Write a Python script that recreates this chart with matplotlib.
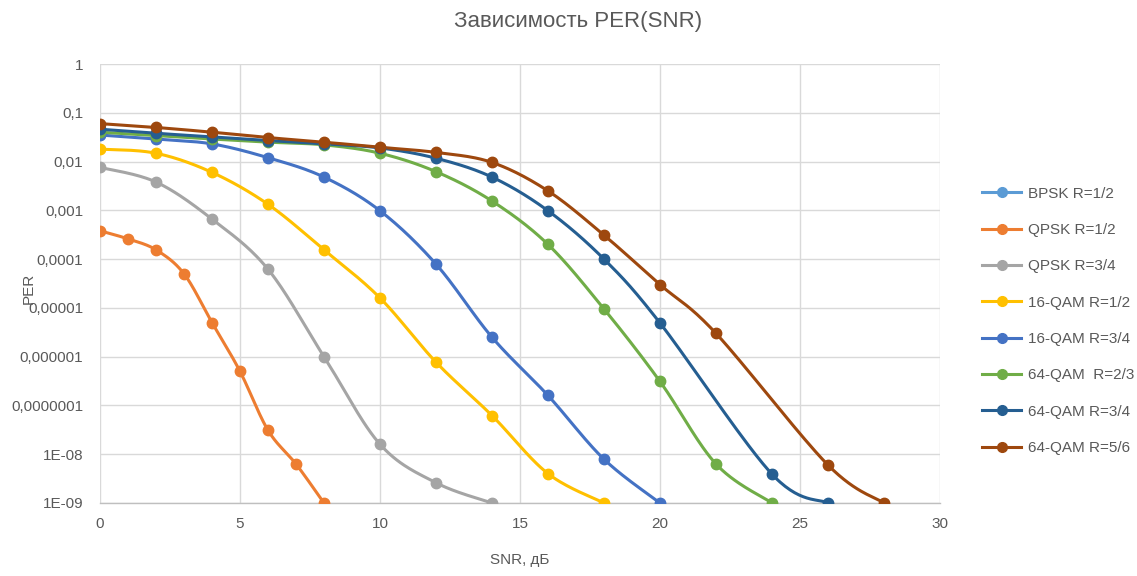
import numpy as np
import matplotlib
matplotlib.use("Agg")
import matplotlib.pyplot as plt
from matplotlib.ticker import FixedLocator, FixedFormatter, NullLocator

plt.rcParams['font.family'] = ['Liberation Sans', 'DejaVu Sans']

# ---- data ----
series_names = ["BPSK R=1/2", "QPSK R=1/2", "QPSK R=3/4", "16-QAM R=1/2",
                "16-QAM R=3/4", "64-QAM  R=2/3", "64-QAM R=3/4", "64-QAM R=5/6"]
series_colors = ["#5B9BD5", "#ED7D31", "#A5A5A5", "#FFC000",
                 "#4472C4", "#70AD47", "#255E91", "#9E480E"]

snr_bpsk_12 = []
per_bpsk_12 = []

snr_qpsk_12 = [0, 1, 2, 3, 4, 5, 6, 7, 8]
per_qpsk_12 = [3.8e-4, 2.6e-4, 1.55e-4, 5e-5, 5e-6, 5e-7, 3.1e-8, 6.3e-9, 1e-9]

snr_qpsk_34 = [0, 2, 4, 6, 8, 10, 12, 14]
per_qpsk_34 = [7.6e-3, 3.8e-3, 6.6e-4, 6.2e-5, 1e-6, 1.6e-8, 2.6e-9, 1e-9]

snr_16qam_12 = [0, 2, 4, 6, 8, 10, 12, 14, 16, 18]
per_16qam_12 = [0.018, 0.0148, 6e-3, 1.33e-3, 1.55e-4, 1.6e-5, 7.7e-7, 6.2e-8, 4e-9, 1e-9]

snr_16qam_34 = [0, 2, 4, 6, 8, 10, 12, 14, 16, 18, 20]
per_16qam_34 = [0.035, 0.029, 0.023, 0.012, 4.8e-3, 9.8e-4, 7.9e-5, 2.5e-6, 1.6e-7, 7.9e-9, 1e-9]

snr_64qam_23 = [0, 2, 4, 6, 8, 10, 12, 14, 16, 18, 20, 22, 24]
per_64qam_23 = [0.040, 0.034, 0.029, 0.025, 0.022, 0.0148, 6.2e-3, 1.55e-3, 2e-4, 9.5e-6,
                3.1e-7, 6.3e-9, 1e-9]

snr_64qam_34 = [0, 2, 4, 6, 8, 10, 12, 14, 16, 18, 20, 24, 26]
per_64qam_34 = [0.046, 0.038, 0.032, 0.027, 0.023, 0.019, 0.0117, 4.8e-3, 9.8e-4, 1e-4,
                4.9e-6, 3.9e-9, 1e-9]

snr_64qam_56 = [0, 2, 4, 6, 8, 10, 12, 14, 16, 18, 20, 22, 26, 28]
per_64qam_56 = [0.060, 0.050, 0.040, 0.031, 0.025, 0.0196, 0.0154, 9.6e-3, 2.5e-3, 3.1e-4,
                3.0e-5, 3.0e-6, 6e-9, 1e-9]

y_ticks = [1, 0.1, 0.01, 1e-3, 1e-4, 1e-5, 1e-6, 1e-7, 1e-8, 1e-9]
y_tick_labels = ["1", "0,1", "0,01", "0,001", "0,0001", "0,00001", "0,000001",
                 "0,0000001", "1E-08", "1E-09"]
x_ticks = [0, 5, 10, 15, 20, 25, 30]

all_x = [snr_bpsk_12, snr_qpsk_12, snr_qpsk_34, snr_16qam_12,
         snr_16qam_34, snr_64qam_23, snr_64qam_34, snr_64qam_56]
all_y = [per_bpsk_12, per_qpsk_12, per_qpsk_34, per_16qam_12,
         per_16qam_34, per_64qam_23, per_64qam_34, per_64qam_56]


def smooth(xs, ys, n=30, sx=28.0, sy=48.8):
    """Catmull-Rom style smoothing done in screen-like (x, log y) space."""
    if len(xs) < 3:
        return np.asarray(xs, float), np.asarray(ys, float)
    px = np.asarray(xs, float) * sx
    py = np.log10(np.asarray(ys, float)) * sy
    pts = np.column_stack([px, py])
    out = [pts[0]]
    t = np.linspace(0, 1, n + 1)[1:]
    for i in range(len(pts) - 1):
        p0 = pts[i - 1] if i > 0 else pts[i]
        p1 = pts[i]
        p2 = pts[i + 1]
        p3 = pts[i + 2] if i + 2 < len(pts) else pts[i + 1]
        c1 = p1 + (p2 - p0) / 6.0
        c2 = p2 - (p3 - p1) / 6.0
        for tt in t:
            b = ((1 - tt) ** 3) * p1 + 3 * ((1 - tt) ** 2) * tt * c1 \
                + 3 * (1 - tt) * tt ** 2 * c2 + tt ** 3 * p2
            out.append(b)
    out = np.array(out)
    return out[:, 0] / sx, 10 ** (out[:, 1] / sy)


fig = plt.figure(figsize=(11.37, 5.76), dpi=100)
ax = fig.add_axes([100 / 1137, 1 - 503 / 576, 840 / 1137, 439 / 576])

text_color = "#595959"
grid_color = "#D9D9D9"

for name, color, xs, ys in zip(series_names, series_colors, all_x, all_y):
    sxs, sys_ = smooth(xs, ys)
    ax.plot(sxs, sys_, color=color, lw=2.2, solid_capstyle="round", zorder=3)
    ax.plot(xs, ys, linestyle="none", marker="o", ms=7.5, color=color, zorder=4)
    ax.plot([], [], color=color, lw=2.2, marker="o", ms=7, label=name)

ax.set_yscale("log")
ax.set_xlim(0, 30)
ax.set_ylim(1e-9, 1)
ax.yaxis.set_major_locator(FixedLocator(y_ticks))
ax.yaxis.set_major_formatter(FixedFormatter(y_tick_labels))
ax.yaxis.set_minor_locator(NullLocator())
ax.set_xticks(x_ticks)
ax.set_xticklabels([str(v) for v in x_ticks])

ax.grid(True, color=grid_color, lw=1.0, zorder=0)
for side in ("top", "right", "left"):
    ax.spines[side].set_visible(False)
ax.spines["bottom"].set_color("#BFBFBF")
ax.spines["bottom"].set_linewidth(1.0)
ax.tick_params(axis="both", length=0, colors=text_color, labelsize=11)
ax.tick_params(axis="x", pad=10)
ax.tick_params(axis="y", pad=12)

ax.set_xlabel("SNR, дБ", color=text_color, fontsize=11, labelpad=16)
ax.set_ylabel("PER", color=text_color, fontsize=11)
ax.yaxis.set_label_coords(-0.076, 0.49)

fig.text(578 / 1137, 1 - 22 / 576, "Зависимость PER(SNR)", ha="center", va="center",
         color=text_color, fontsize=16)

leg = ax.legend(loc="upper left", bbox_to_anchor=(968 / 1137, 1 - 173 / 576),
                bbox_transform=fig.transFigure, frameon=False, fontsize=11,
                labelspacing=1.46, handlelength=2.6, handletextpad=0.4,
                labelcolor=text_color)

fig.savefig("out.png", dpi=100, facecolor="white")
